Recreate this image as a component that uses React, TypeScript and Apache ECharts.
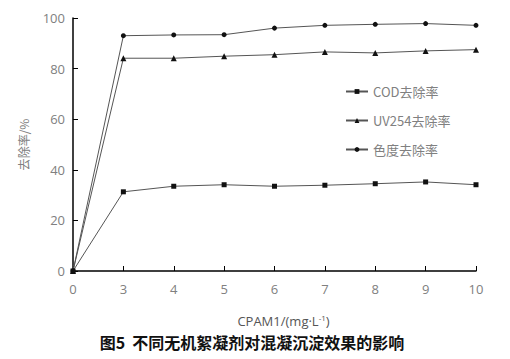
import React, { useEffect, useRef } from "react";
import * as echarts from "echarts";

const categories = ["0", "3", "4", "5", "6", "7", "8", "9", "10"];
const codValues = [0, 31.3, 33.5, 34.1, 33.5, 33.9, 34.5, 35.2, 34.1];
const uvValues = [0, 84.1, 84.1, 84.9, 85.5, 86.6, 86.2, 87.0, 87.5];
const colorValues = [0, 93.0, 93.3, 93.4, 96.0, 97.1, 97.5, 97.8, 97.1];
const seriesNames = ["COD去除率", "UV254去除率", "色度去除率"];
const yTicks = { min: 0, max: 100, interval: 20 };
const caption = "图5  不同无机絮凝剂对混凝沉淀效果的影响";

const FONT = "'Noto Sans CJK SC', 'Noto Sans', sans-serif";
const LATIN = "'Open Sans', 'Noto Sans', sans-serif";

export default function App() {
  const ref = useRef<HTMLDivElement>(null);
  useEffect(() => {
    if (!ref.current) return;
    const chart = echarts.init(ref.current, undefined, { renderer: "svg" });
    const lineStyle = { color: "#555", width: 1 };
    const mk = (name: string, data: number[], symbol: string, size: number) => ({
      name,
      type: "line",
      data,
      symbol,
      symbolSize: size,
      showAllSymbol: true,
      lineStyle,
      itemStyle: { color: "#111", borderWidth: 0 },
    });
    chart.setOption({
      animation: false,
      backgroundColor: "#fff",
      textStyle: { fontFamily: FONT },
      grid: { left: 73, right: 34, top: 18, bottom: 88 },
      legend: {
        orient: "vertical",
        left: 340,
        top: 80,
        itemGap: 16,
        itemWidth: 22,
        itemHeight: 6,
        textStyle: { color: "#808080", fontSize: 13, fontFamily: FONT },
        data: seriesNames,
      },
      xAxis: {
        type: "category",
        data: categories,
        boundaryGap: false,
        axisLine: { lineStyle: { color: "#000", width: 1.5 } },
        axisTick: { inside: true, length: 5, alignWithLabel: true, lineStyle: { color: "#000" } },
        axisLabel: { color: "#808080", fontSize: 13, margin: 11, fontFamily: LATIN },
        name: "{a|CPAM1/(mg·L}{sup|-1}{a|)}",
        nameLocation: "middle",
        nameGap: 42,
        nameTextStyle: {
          padding: [0, 0, 0, 18],
          rich: {
            a: { color: "#555", fontSize: 13, fontFamily: LATIN },
            sup: { color: "#555", fontSize: 8, fontFamily: LATIN, verticalAlign: "top", padding: [0, 0, 8, 0] },
          },
        },
        splitLine: { show: false },
      },
      yAxis: {
        type: "value",
        min: yTicks.min,
        max: yTicks.max,
        interval: yTicks.interval,
        axisLine: { show: true, lineStyle: { color: "#000", width: 1.5 } },
        axisTick: { show: true, inside: true, length: 5, lineStyle: { color: "#000" } },
        axisLabel: { color: "#808080", fontSize: 13, margin: 8, fontFamily: LATIN },
        splitLine: { show: false },
        name: "去除率/%",
        nameLocation: "middle",
        nameGap: 44,
        nameTextStyle: { color: "#808080", fontSize: 12, fontFamily: FONT },
      },
      graphic: [
        {
          type: "text",
          x: 252,
          y: 342,
          style: {
            text: caption,
            fill: "#111",
            font: `bold 16px ${FONT}`,
            textAlign: "center",
            textVerticalAlign: "middle",
          },
        },
      ],
      series: [
        mk(seriesNames[0], codValues, "rect", 5),
        mk(seriesNames[1], uvValues, "triangle", 6),
        mk(seriesNames[2], colorValues, "circle", 5),
      ],
    });
    return () => chart.dispose();
  }, []);
  return <div ref={ref} style={{ width: 510, height: 359, position: "absolute", left: 0, top: 0 }} />;
}
